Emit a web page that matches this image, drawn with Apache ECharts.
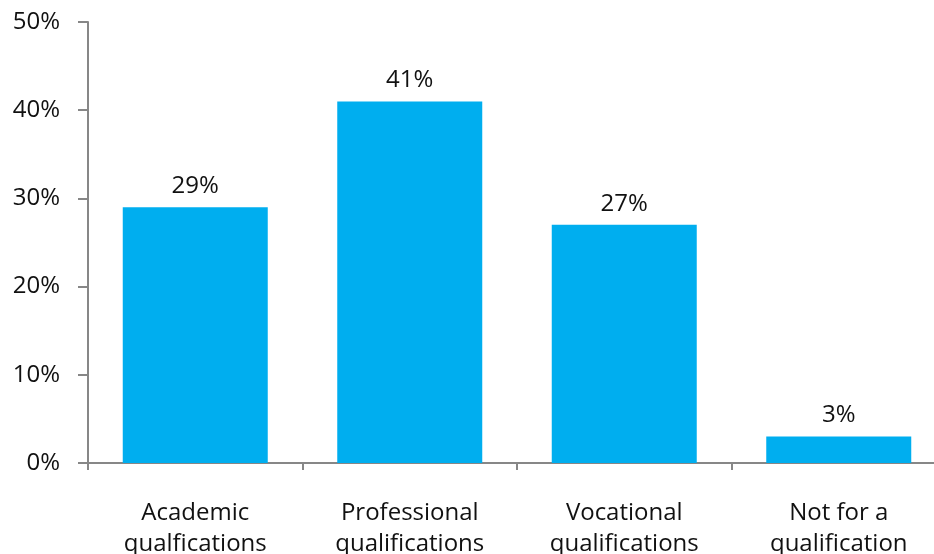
<!DOCTYPE html>
<html>
<head>
<meta charset="utf-8">
<script src="https://cdn.jsdelivr.net/npm/echarts@6/dist/echarts.min.js"></script>
<style>
  html, body { margin: 0; padding: 0; background: #fff; }
  #chart { width: 934px; height: 554px; }
</style>
</head>
<body>
<div id="chart"></div>
<script>
// categories and values (percent)
var categories = ['Academic\nqualfications', 'Professional\nqualifications', 'Vocational\nqualifications', 'Not for a\nqualification'];
var values = [29, 41, 27, 3];

var chartDom = document.getElementById('chart');
var myChart = echarts.init(chartDom);
var font = 'Open Sans';

var option = {
  animation: false,
  grid: {
    left: 88,
    top: 22,
    width: 858,   // runs a little past the right edge, as in the original
    height: 441,
    outerBoundsMode: 'none',
    containLabel: false
  },
  xAxis: {
    type: 'category',
    data: categories,
    axisLine: { lineStyle: { color: '#878787', width: 2 } },
    axisTick: { show: true, length: 7, inside: false, lineStyle: { color: '#878787', width: 2 } },
    axisLabel: {
      margin: 35,
      fontFamily: font,
      fontSize: 24,
      lineHeight: 31,
      color: '#111'
    }
  },
  yAxis: {
    type: 'value',
    min: 0,
    max: 50,
    interval: 10,
    splitLine: { show: false },
    axisLine: { show: true, lineStyle: { color: '#878787', width: 2 } },
    axisTick: { show: true, length: 10, lineStyle: { color: '#878787', width: 2 } },
    axisLabel: {
      margin: 28,
      formatter: '{value}%',
      fontFamily: font,
      fontSize: 24,
      color: '#111'
    }
  },
  series: [{
    type: 'bar',
    data: values,
    barWidth: 145,
    itemStyle: { color: '#00AEEF' },
    label: {
      show: true,
      position: 'top',
      distance: 9,
      formatter: '{c}%',
      fontFamily: font,
      fontSize: 24,
      color: '#111'
    }
  }]
};

option && myChart.setOption(option);
</script>
</body>
</html>
